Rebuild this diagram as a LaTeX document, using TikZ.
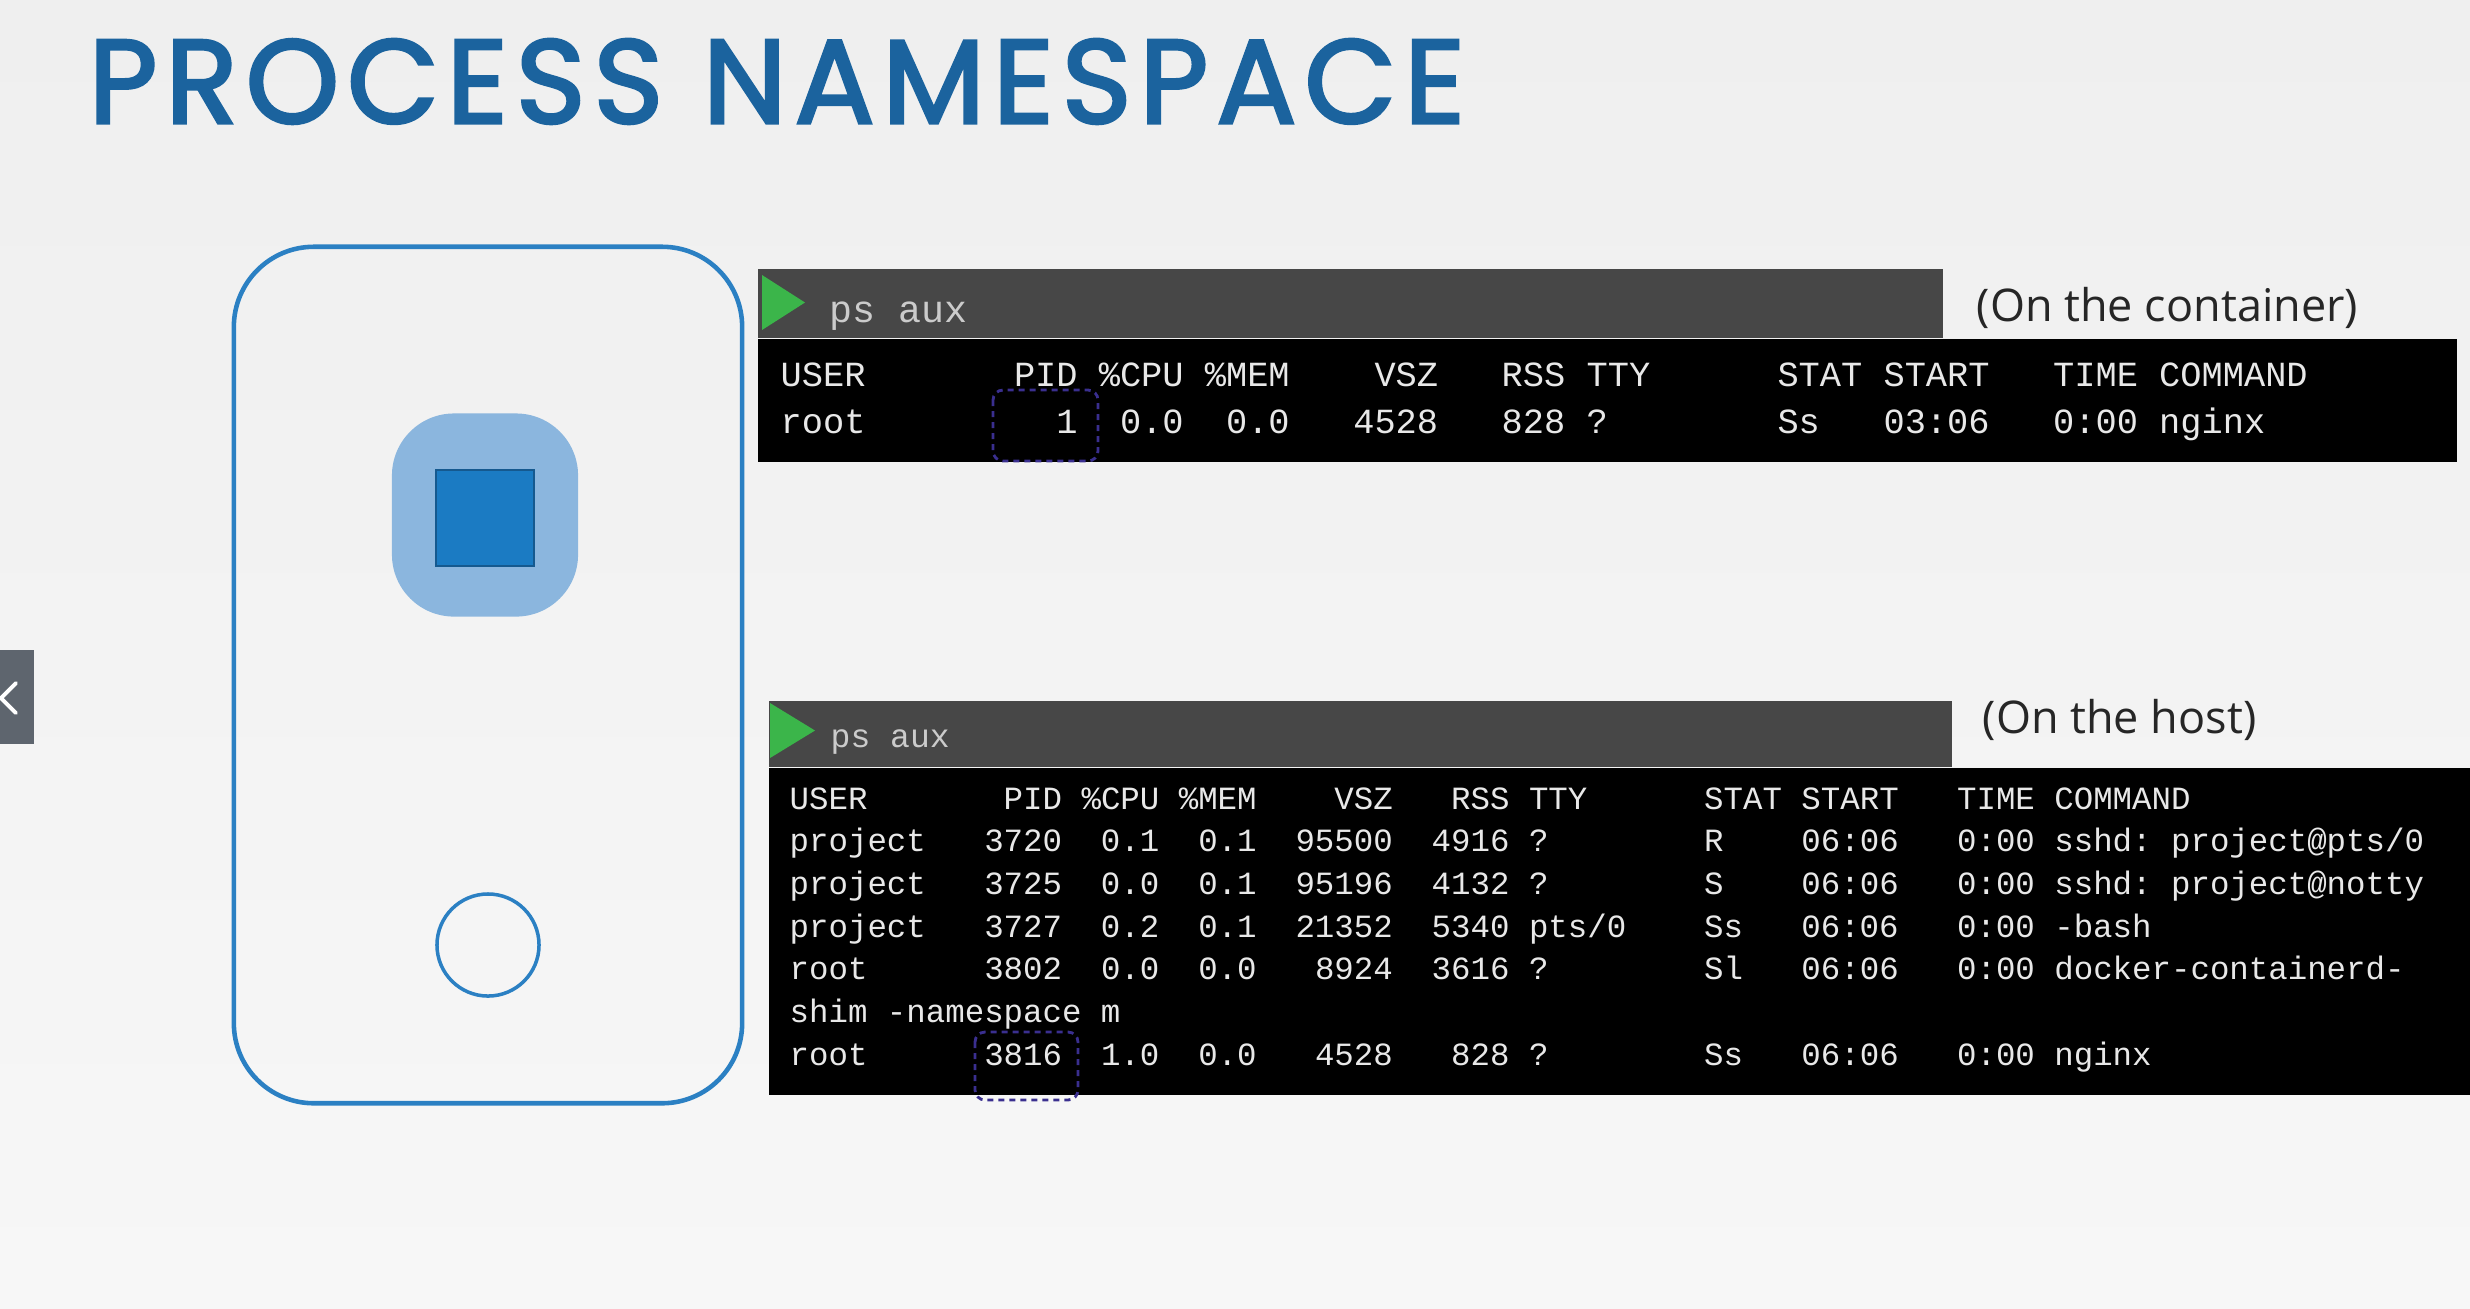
\documentclass[tikz,border=0pt]{standalone}
\usepackage{fontspec}
\newfontfamily\titlefont{Poppins}[FakeBold=2.5, LetterSpace=6.7]
\newfontfamily\notefont{Open Sans}
\newfontfamily\termfont{Liberation Mono}
\usetikzlibrary{positioning}

\definecolor{bgtop}{HTML}{EFEFEF}
\definecolor{bgbot}{HTML}{F7F7F7}
\definecolor{titleblue}{HTML}{1B639E}
\definecolor{phoneblue}{HTML}{2B80C3}
\definecolor{appfill}{HTML}{8BB6DE}
\definecolor{appcore}{HTML}{1B7BC3}
\definecolor{appedge}{HTML}{15598F}
\definecolor{bargray}{HTML}{474747}
\definecolor{termtext}{HTML}{E8E8E8}
\definecolor{cmdtext}{HTML}{CBCBCB}
\definecolor{playgreen}{HTML}{3BB54A}
\definecolor{pidline}{HTML}{3A2F8F}
\definecolor{tabgray}{HTML}{5E656E}

\begin{document}
\begin{tikzpicture}[
  x=0.01cm, y=-0.01cm,
  title/.style  = {anchor=base west, inner sep=0pt, text=titleblue,
                   font=\titlefont\fontsize{33.8pt}{40pt}\selectfont},
  note/.style   = {anchor=base west, inner sep=0pt, text=black!85,
                   font=\notefont\fontsize{12.8pt}{15pt}\selectfont},
  phone/.style  = {rectangle, rounded corners=0.8cm, draw=phoneblue, line width=1.3pt,
                   minimum width=5.08cm, minimum height=8.56cm},
  app/.style    = {rectangle, rounded corners=0.62cm, fill=appfill,
                   minimum width=1.86cm, minimum height=2.03cm},
  core/.style   = {rectangle, fill=appcore, draw=appedge, line width=0.6pt,
                   minimum width=0.98cm, minimum height=0.96cm},
  button/.style = {circle, draw=phoneblue, line width=1pt, minimum size=1.02cm},
  bar/.style    = {rectangle, anchor=north west, fill=bargray, inner sep=0pt},
  screen/.style = {rectangle, anchor=north west, fill=black, inner sep=0pt},
  cmd/.style    = {anchor=base west, inner sep=0pt, text=cmdtext},
  term/.style   = {anchor=base west, inner sep=0pt, text=termtext},
  play/.style   = {fill=playgreen},
  pidbox/.style = {draw=pidline, line width=0.8pt, rounded corners=0.1cm,
                   dash pattern=on 0.06cm off 0.05cm}
]

\useasboundingbox (0,0) rectangle (2470,1308);
\shade[top color=bgtop, bottom color=bgbot] (0,0) rectangle (2470,1308);

\node[title] (title) at (88,123) {PROCESS NAMESPACE};

% phone with the container app
\node[phone]  (phone) at (488,675) {};
\node[app]    (app)   at (485,515) {};
\node[core]   (core)  at (485,518) {};
\node[button] (home)  at (488,945) {};

% container terminal
\node[bar, minimum width=11.85cm, minimum height=0.69cm] (cbar) at (757,268) {};
\node[screen, minimum width=16.98cm, minimum height=1.23cm] (cscreen) at (cbar.south west) {};
\fill[play] (762,275) -- (762,330) -- (805,302.5) -- cycle;
\node[cmd, font=\termfont\fontsize{10.9pt}{13pt}\selectfont] (ccmd) at (829,322) {ps~aux};
\node[note] (clabel) at (1976,321) {(On the container)};

\foreach \ln [count=\i from 0] in {
  {USER~~~~~~~PID~\%CPU~\%MEM~~~~VSZ~~~RSS~TTY~~~~~~STAT~START~~~TIME~COMMAND},
  {root~~~~~~~~~1~~0.0~~0.0~~~4528~~~828~?~~~~~~~~Ss~~~03:06~~~0:00~nginx}}
  \node[term, font=\termfont\fontsize{10.05pt}{12pt}\selectfont] (crow\i) at (780,386+47*\i) {\ln};

% host terminal
\node[bar, minimum width=11.83cm, minimum height=0.66cm] (hbar) at (768,700) {};
\node[screen, minimum width=17.02cm, minimum height=3.27cm] (hscreen) at (hbar.south west) {};
\fill[play] (770,703) -- (770,758) -- (815,730.5) -- cycle;
\node[cmd, font=\termfont\fontsize{9.4pt}{11pt}\selectfont] (hcmd) at (830,747) {ps~aux};
\node[note] (hlabel) at (1982,733) {(On the host)};

\foreach \ln [count=\i from 0] in {
  {USER~~~~~~~PID~\%CPU~\%MEM~~~~VSZ~~~RSS~TTY~~~~~~STAT~START~~~TIME~COMMAND},
  {project~~~3720~~0.1~~0.1~~95500~~4916~?~~~~~~~~R~~~~06:06~~~0:00~sshd:~project@pts/0},
  {project~~~3725~~0.0~~0.1~~95196~~4132~?~~~~~~~~S~~~~06:06~~~0:00~sshd:~project@notty},
  {project~~~3727~~0.2~~0.1~~21352~~5340~pts/0~~~~Ss~~~06:06~~~0:00~-bash},
  {root~~~~~~3802~~0.0~~0.0~~~8924~~3616~?~~~~~~~~Sl~~~06:06~~~0:00~docker-containerd-},
  {shim~-namespace~m},
  {root~~~~~~3816~~1.0~~0.0~~~4528~~~828~?~~~~~~~~Ss~~~06:06~~~0:00~nginx}}
  \node[term, font=\termfont\fontsize{9.22pt}{11pt}\selectfont] (hrow\i) at (789,809+42.7*\i) {\ln};

% the two PIDs of nginx
\draw[pidbox] (993,390) rectangle (1098,461);
\draw[pidbox] (975,1032) rectangle (1078,1100);

% slide tab
\fill[tabgray] (0,650) rectangle (34,744);
\draw[white, line width=1.1pt, line cap=round, line join=round] (16,683) -- (1,698) -- (16,713);

\end{tikzpicture}
\end{document}
